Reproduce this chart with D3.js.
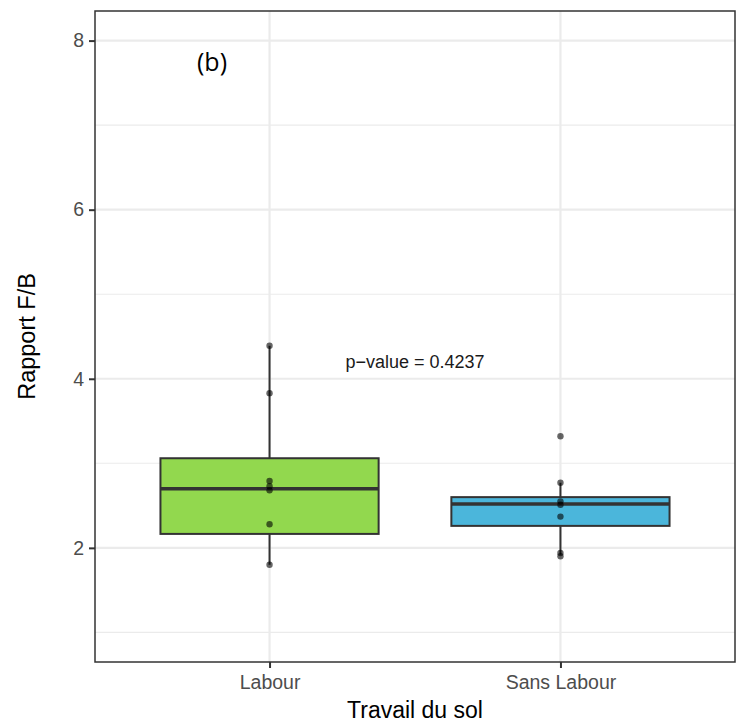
<!DOCTYPE html>
<html>
<head>
<meta charset="utf-8">
<script src="https://cdn.jsdelivr.net/npm/d3@7"></script>
<style>
  html, body { margin: 0; padding: 0; background: #fff; }
  svg { display: block; }
</style>
</head>
<body>
<svg id="chart" width="742" height="726"></svg>
<script>
// Soil tillage treatments
const categories = ["Labour", "Sans Labour"];
const fills = ["#92D84E", "#4BB6DB"];

// Box summaries per treatment: lower whisker, Q1, median, Q3, upper whisker
const whiskerLow = [1.80, 1.92];
const q1 = [2.165, 2.26];
const median = [2.70, 2.52];
const q3 = [3.06, 2.60];
const whiskerHigh = [4.39, 2.77];

// Individual F/B ratio observations
const labourPoints = [4.39, 3.83, 2.79, 2.73, 2.68, 2.28, 1.80];
const sansLabourPoints = [3.32, 2.77, 2.55, 2.51, 2.37, 1.94, 1.90];

const yTicks = [2, 4, 6, 8];
const yMinor = [1, 3, 5, 7];
const pLabel = "p\u2212value = 0.4237";

const svg = d3.select("#chart");
const panel = { left: 95, right: 735, top: 11, bottom: 662 };
const sans = "'Liberation Sans', Arial, sans-serif";

const x = d3.scalePoint()
  .domain(categories)
  .range([panel.left, panel.right])
  .padding(0.6);

const y = d3.scaleLinear()
  .domain([0.65, 8.35])
  .range([panel.bottom, panel.top]);

const boxWidth = x.step() * 0.75;

// Grid
const grid = svg.append("g");
grid.selectAll("line.minor").data(yMinor).join("line")
  .attr("x1", panel.left).attr("x2", panel.right)
  .attr("y1", d => y(d)).attr("y2", d => y(d))
  .attr("stroke", "#EBEBEB").attr("stroke-width", 1.1);
grid.selectAll("line.major").data(yTicks).join("line")
  .attr("x1", panel.left).attr("x2", panel.right)
  .attr("y1", d => y(d)).attr("y2", d => y(d))
  .attr("stroke", "#EBEBEB").attr("stroke-width", 2.2);
grid.selectAll("line.vmajor").data(categories).join("line")
  .attr("x1", d => x(d)).attr("x2", d => x(d))
  .attr("y1", panel.top).attr("y2", panel.bottom)
  .attr("stroke", "#EBEBEB").attr("stroke-width", 2.2);

// Boxplots
const boxes = svg.append("g");
categories.forEach((c, i) => {
  const cx = x(c);
  boxes.append("line")
    .attr("x1", cx).attr("x2", cx)
    .attr("y1", y(whiskerHigh[i])).attr("y2", y(q3[i]))
    .attr("stroke", "#333").attr("stroke-width", 2);
  boxes.append("line")
    .attr("x1", cx).attr("x2", cx)
    .attr("y1", y(q1[i])).attr("y2", y(whiskerLow[i]))
    .attr("stroke", "#333").attr("stroke-width", 2);
  boxes.append("rect")
    .attr("x", cx - boxWidth / 2).attr("width", boxWidth)
    .attr("y", y(q3[i])).attr("height", y(q1[i]) - y(q3[i]))
    .attr("fill", fills[i]).attr("stroke", "#333").attr("stroke-width", 2);
  boxes.append("line")
    .attr("x1", cx - boxWidth / 2).attr("x2", cx + boxWidth / 2)
    .attr("y1", y(median[i])).attr("y2", y(median[i]))
    .attr("stroke", "#333").attr("stroke-width", 3.5);
});

// Points
const pointSets = [labourPoints, sansLabourPoints];
const pts = svg.append("g");
pointSets.forEach((vals, i) => {
  pts.selectAll(null).data(vals).join("circle")
    .attr("cx", x(categories[i]))
    .attr("cy", d => y(d))
    .attr("r", 3.2)
    .attr("fill", "#000")
    .attr("fill-opacity", 0.6);
});

// Panel border
svg.append("rect")
  .attr("x", panel.left).attr("y", panel.top)
  .attr("width", panel.right - panel.left)
  .attr("height", panel.bottom - panel.top)
  .attr("fill", "none").attr("stroke", "#333").attr("stroke-width", 1.5);

// Axes
const yAxis = svg.append("g")
  .attr("transform", `translate(${panel.left},0)`)
  .call(d3.axisLeft(y).tickValues(yTicks).tickSize(6).tickPadding(5).tickFormat(d3.format("d")));
yAxis.select(".domain").remove();
yAxis.selectAll(".tick line").attr("stroke", "#333").attr("stroke-width", 2);
yAxis.selectAll(".tick text")
  .attr("fill", "#4D4D4D")
  .style("font-family", sans)
  .style("font-size", "19.5px");

const xAxis = svg.append("g")
  .attr("transform", `translate(0,${panel.bottom})`)
  .call(d3.axisBottom(x).tickSize(6).tickPadding(7));
xAxis.select(".domain").remove();
xAxis.selectAll(".tick line").attr("stroke", "#333").attr("stroke-width", 2);
xAxis.selectAll(".tick text")
  .attr("fill", "#4D4D4D")
  .style("font-family", sans)
  .style("font-size", "19.5px");

// Axis titles
svg.append("text")
  .attr("x", (panel.left + panel.right) / 2)
  .attr("y", 718)
  .attr("text-anchor", "middle")
  .style("font-family", sans)
  .style("font-size", "23px")
  .attr("fill", "#000")
  .text("Travail du sol");

svg.append("text")
  .attr("transform", `translate(35,${(panel.top + panel.bottom) / 2}) rotate(-90)`)
  .attr("text-anchor", "middle")
  .style("font-family", sans)
  .style("font-size", "23.5px")
  .attr("fill", "#000")
  .text("Rapport F/B");

// Test annotation
svg.append("text")
  .attr("x", x(categories[0]) + x.step() / 2)
  .attr("y", y(4.2))
  .attr("dy", "0.35em")
  .attr("text-anchor", "middle")
  .style("font-family", sans)
  .style("font-size", "18px")
  .attr("fill", "#1A1A1A")
  .text(pLabel);

// Panel tag
svg.append("text")
  .attr("x", 212)
  .attr("y", 71)
  .attr("text-anchor", "middle")
  .style("font-family", "'Open Sans', 'Noto Sans', sans-serif")
  .style("font-size", "25px")
  .attr("fill", "#000")
  .text("(b)");
</script>
</body>
</html>
